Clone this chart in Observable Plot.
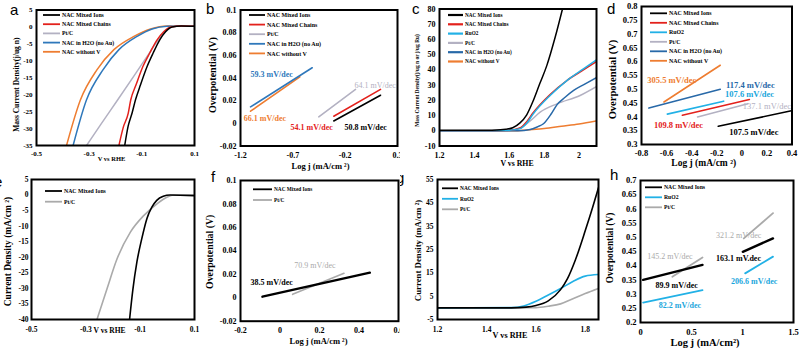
<!DOCTYPE html>
<html><head><meta charset="utf-8">
<script src="https://cdn.jsdelivr.net/npm/d3@7"></script>
<script src="https://cdn.jsdelivr.net/npm/@observablehq/plot@0.6"></script>
<style>
html,body{margin:0;padding:0;background:#fff;}
#fig{position:relative;width:800px;height:351px;overflow:hidden;background:#fff;}
#fig svg{position:absolute;}
</style></head><body><div id="fig"></div>
<script>
// ================= DATA =================
const N_IONS = "NAC Mixed Ions", N_CHAINS = "NAC Mixed Chains", N_PT = "Pt/C",
      N_H2O = "NAC in H2O (no Au)", N_NOV = "NAC without V", N_RU = "RuO2";

// (a) HER LSV: mass current density vs V (RHE)
const a_mixedIons   = [[-0.165,-35],[-0.152,-29.3],[-0.137,-25.4],[-0.124,-21.5],[-0.105,-17.1],[-0.08,-11.7],[-0.057,-7.7],[-0.032,-3.8],[-0.01,-1.4],[0.015,0],[0.05,0.3],[0.1,0.2]];
const a_mixedChains = [[-0.187,-35],[-0.170,-29.5],[-0.152,-25.6],[-0.142,-21.5],[-0.122,-17.1],[-0.096,-11.7],[-0.070,-7.7],[-0.042,-3.8],[-0.017,-1.4],[0.01,0],[0.05,0.3],[0.1,0.2]];
const a_ptc         = [[-0.31,-35],[-0.257,-28.9],[-0.194,-21.8],[-0.131,-14.6],[-0.08,-8.7],[-0.042,-4.3],[-0.01,-1.4],[0.015,0.1],[0.05,0.3],[0.1,0.2]];
const a_h2o         = [[-0.361,-35],[-0.31,-21.5],[-0.247,-12.6],[-0.187,-6.7],[-0.118,-2.8],[-0.061,-0.6],[-0.004,0.2],[0.05,0.3],[0.1,0.2]];
const a_noV         = [[-0.386,-35],[-0.333,-21.5],[-0.27,-12.6],[-0.206,-6.7],[-0.13,-2.8],[-0.067,-0.6],[-0.004,0.3],[0.05,0.3],[0.1,0.2]];
const a_xticks = [-0.5,-0.3,-0.1,0.1];
const a_yticks = [5,0,-5,-10,-15,-20,-25,-30,-35];

// (b) HER Tafel
const b_mixedIons   = [[-0.309,0.0021],[0.138,0.0248]];
const b_mixedChains = [[-0.309,0.0063],[0.138,0.030]];
const b_ptc         = [[-0.452,0.0057],[-0.101,0.0299]];
const b_h2o         = [[-1.104,0.0145],[-0.515,0.049]];
const b_noV         = [[-1.104,0.0107],[-0.633,0.041]];
const b_slopes = [["59.3 mV/dec",-1.104,0.0431,N_H2O],["66.1 mV/dec",-1.168,0.0042,N_NOV],["54.1 mV/dec",-0.722,-0.0032,N_CHAINS],["50.8 mV/dec",-0.206,-0.0032,N_IONS],["64.1 mV/dec",-0.111,0.0337,N_PT]];
const b_xticks = [-1.2,-0.7,-0.2,0.3];
const b_yticks = [0.1,0.08,0.06,0.04,0.02,0,-0.02];

// (c) OER LSV: mass current density
const c_mixedIons   = [[1.2,0.3],[1.4,0.3],[1.5,0.4],[1.55,0.6],[1.58,1],[1.62,2],[1.66,5],[1.70,10.5],[1.738,19.9],[1.775,31],[1.815,42.8],[1.863,61.4],[1.905,80]];
const c_mixedChains = [[1.2,0],[1.5,0],[1.6,0.3],[1.66,1.8],[1.70,6],[1.738,12],[1.834,23.8],[1.93,33],[2.025,40],[2.1,45.5]];
const c_ruo2        = [[1.2,0],[1.5,0],[1.6,0.3],[1.662,1.4],[1.70,5],[1.738,11.2],[1.834,23.2],[1.93,33],[2.025,40.7],[2.1,46.6]];
const c_ptc         = [[1.2,0],[1.6,0.2],[1.66,1.5],[1.72,6.5],[1.777,12.2],[1.873,17.7],[2.006,23.2],[2.1,29]];
const c_h2o         = [[1.2,0],[1.65,0],[1.72,0.8],[1.76,2.5],[1.796,4.6],[1.84,11],[1.873,17],[1.92,22],[1.969,26.5],[2.03,30.5],[2.1,35]];
const c_noV         = [[1.2,0],[1.65,0],[1.7,0.5],[1.8,1.5],[1.9,3],[2.0,4.5],[2.1,6.5]];
const c_xticks = [1.2,1.4,1.6,1.8,2];
const c_yticks = [80,70,60,50,40,30,20,10,0,-10];

// (d) OER Tafel
const d_mixedIons   = [[-0.188,0.366],[0.395,0.422]];
const d_mixedChains = [[-0.474,0.406],[0.060,0.463]];
const d_ruo2        = [[-0.594,0.410],[-0.145,0.457]];
const d_ptc         = [[-0.353,0.400],[0.048,0.448]];
const d_h2o         = [[-0.741,0.432],[-0.172,0.500]];
const d_noV         = [[-0.621,0.454],[-0.172,0.587]];
const d_slopes = [["305.5 mV/dec",-0.754,0.533,N_NOV],["117.4 mV/dec",-0.126,0.5145,N_H2O],["107.6 mV/dec",-0.134,0.482,N_RU],["137.1 mV/dec",0.0075,0.439,N_PT],["109.8 mV/dec",-0.701,0.370,N_CHAINS],["107.5 mV/dec",-0.0999,0.346,N_IONS]];
const d_xticks = [-0.8,-0.6,-0.4,-0.2,0,0.2,0.4];
const d_yticks = [0.8,0.75,0.7,0.65,0.6,0.55,0.5,0.45,0.4,0.35,0.3];

// (e) HER LSV: current density
const e_mixedIons = [[-0.139,-40],[-0.127,-30.5],[-0.112,-21.5],[-0.094,-14],[-0.075,-7.5],[-0.057,-3.9],[-0.039,-1.7],[-0.015,-0.4],[0.01,0],[0.1,-0.2]];
const e_ptc       = [[-0.259,-40],[-0.222,-30.1],[-0.185,-20.5],[-0.136,-11.9],[-0.087,-6.6],[-0.038,-2.8],[-0.002,-0.7],[0.023,0],[0.1,0]];
const e_xticks = [-0.5,-0.3,-0.1,0.1];
const e_yticks = [5,0,-5,-10,-15,-20,-25,-30,-35,-40];

// (f) HER Tafel
const f_mixedIons = [[-0.089,0.0009],[0.455,0.0214]];
const f_ptc       = [[0.064,0.0029],[0.324,0.0209]];
const f_slopes = [["38.5 mV/dec",-0.149,0.0132,N_IONS],["70.9 mV/dec",0.072,0.0275,N_PT]];
const f_xticks = [-0.2,0,0.2,0.4,0.6];
const f_yticks = [0.1,0.08,0.06,0.04,0.02,0,-0.02];

// (g) OER LSV: current density
const g_mixedIons = [[1.2,0],[1.5,0],[1.56,0.3],[1.6,1],[1.65,3],[1.70,7.8],[1.728,12.5],[1.76,20.5],[1.8,33],[1.83,43],[1.854,51.5]];
const g_ruo2      = [[1.2,0],[1.5,0.1],[1.55,0.8],[1.6,2.8],[1.65,5.5],[1.7,8.3],[1.75,11.3],[1.8,13.6],[1.854,14.3]];
const g_ptc       = [[1.2,0],[1.6,0.1],[1.65,0.7],[1.7,1.7],[1.75,3.9],[1.8,6.1],[1.854,8.3]];
const g_xticks = [1.2,1.4,1.6,1.8];
const g_yticks = [55,45,35,25,15,5,-5];

// (h) OER Tafel, two regions
const h_mixedIonsLow  = [[0.026,0.35],[0.608,0.403]];
const h_mixedIonsHigh = [[1.003,0.449],[1.299,0.496]];
const h_ruo2Low       = [[0.026,0.270],[0.608,0.314]];
const h_ruo2High      = [[1.026,0.373],[1.299,0.432]];
const h_ptcLow        = [[0.312,0.361],[0.608,0.429]];
const h_ptcHigh       = [[1.013,0.496],[1.299,0.585]];
const h_slopes = [["321.2 mV/dec",0.74,0.508,N_PT],["145.2 mV/dec",0.066,0.432,N_PT],["163.1 mV.dec",0.74,0.424,N_IONS],["89.9 mV/dec",0.148,0.332,N_IONS],["82.2 mV/dec",0.18,0.261,N_RU],["206.6 mV/dec",0.888,0.344,N_RU]];
const h_xticks = [0,0.5,1,1.5];
const h_yticks = [0.7,0.65,0.6,0.55,0.5,0.45,0.4,0.35,0.3,0.25,0.2];

const panelLetters = ["a","b","c","d","e","f","g","h"];

// ================= STYLE =================
const FONT = '"Liberation Serif","Times New Roman",serif';
const COL = {[N_IONS]:"#000000",[N_CHAINS]:"#e3211c",[N_PT]:"#b3b1c2",[N_H2O]:"#2f78bb",[N_NOV]:"#ee7d31",[N_RU]:"#22b1e6"};
const COL_DARKBLUE = "#2869a8";

function legendMark(items, cfg, colors) {
  return () => {
    const g = d3.create("svg:g").attr("text-anchor", "start");
    items.forEach((name, i) => {
      const y = cfg.y + i * cfg.dy;
      g.append("line").attr("x1", cfg.x).attr("x2", cfg.x + cfg.len).attr("y1", y).attr("y2", y)
        .attr("stroke", colors[name]).attr("stroke-width", cfg.sw || 1.8);
      g.append("text").attr("x", cfg.x + cfg.len + 2).attr("y", y).attr("dy", "0.35em")
        .attr("text-anchor", "start")
        .attr("font-size", cfg.fs).attr("font-weight", "bold").attr("font-family", FONT)
        .attr("fill", "#000").text(name);
    });
    return g.node();
  };
}

const panels = [
  {box:[0,0,175], frame:[36,194,9.5,145], x:[-0.5,0.1], y:[-35,5], xt:a_xticks, yt:a_yticks, tfs:7, xpad:5.5, ypad:4,
   series:[[a_noV,N_NOV],[a_h2o,N_H2O],[a_ptc,N_PT],[a_mixedChains,N_CHAINS],[a_mixedIons,N_IONS]], sw:1.5, curve:"monotone-x",
   xTitle:"V vs RHE", xfs:6.5, xdy:13.5, xdx:-4, yTitle:"Mass Current Density(j/ug n)", yfs:7.5, ydx:-20, ydy:7,
   legend:{items:[N_IONS,N_CHAINS,N_PT,N_H2O,N_NOV], x:43, y:15, dy:9.2, len:17, fs:5.8}},
  {box:[200,0,175], frame:[240,397,9.5,145.5], x:[-1.2,0.3], y:[-0.02,0.1], xt:b_xticks, yt:b_yticks, tfs:8, xpad:6.5, ypad:4,
   series:[[b_noV,N_NOV],[b_h2o,N_H2O],[b_ptc,N_PT],[b_mixedChains,N_CHAINS],[b_mixedIons,N_IONS]], sw:1.6, curve:"linear",
   slopes:b_slopes, sfs:8,
   xTitle:"Log j (mA/cm ²)", xfs:8.5, xdy:20.5, xdx:1.5, yTitle:"Overpotential (V)", yfs:10, ydx:-28, ydy:-3,
   legend:{items:[N_IONS,N_CHAINS,N_PT,N_H2O,N_NOV], x:49, y:15, dy:9.6, len:16, fs:6}},
  {box:[400,0,175], frame:[439,596,8.5,145.5], x:[1.2,2.1], y:[-10,80], xt:c_xticks, yt:c_yticks, tfs:8, xpad:6, ypad:4,
   series:[[c_noV,N_NOV],[c_ptc,N_PT],[c_h2o,N_H2O],[c_mixedChains,N_CHAINS],[c_ruo2,N_RU],[c_mixedIons,N_IONS]], sw:1.5, curve:"monotone-x", dark:true,
   xTitle:"V vs RHE", xfs:7.8, xdy:17, xdx:-1, yTitle:"Mass Current Density(j/ug n or j/ug Ru)", yfs:5.4, ydx:-22, ydy:3,
   legend:{items:[N_IONS,N_CHAINS,N_RU,N_PT,N_H2O,N_NOV], x:48, y:15, dy:9.3, len:15, fs:5.2, sw:2.2}},
  {box:[600,0,175], frame:[641,791.5,6,144], x:[-0.8,0.4], y:[0.3,0.8], xt:d_xticks, yt:d_yticks, tfs:8.5, xpad:5.5, ypad:4,
   series:[[d_noV,N_NOV],[d_h2o,N_H2O],[d_ruo2,N_RU],[d_mixedChains,N_CHAINS],[d_ptc,N_PT],[d_mixedIons,N_IONS]], sw:1.6, curve:"linear", dark:true,
   slopes:d_slopes, sfs:8.5,
   xTitle:"Log j (mA/cm ²)", xfs:9.5, xdy:18, xdx:-13, yTitle:"Overpotential (V)", yfs:10.5, ydx:-29, ydy:4,
   legend:{items:[N_IONS,N_CHAINS,N_RU,N_PT,N_H2O,N_NOV], x:50, y:13.3, dy:9.5, len:17, fs:5.9}},
  {box:[0,175,176], frame:[31,194,179,319], x:[-0.5,0.1], y:[-40,5], xt:e_xticks, yt:e_yticks, tfs:7.5, xpad:7, ypad:3,
   series:[[e_ptc,N_PT],[e_mixedIons,N_IONS]], sw:1.6, curve:"monotone-x", grayPt:"#aaaaaa",
   xTitle:"V vs RHE", xfs:7.5, xdy:11, xdx:-3.5, yTitle:"Current Density (mA/cm ²)", yfs:9.5, ydx:-24, ydy:2,
   legend:{items:[N_IONS,N_PT], x:45, y:16, dy:10.7, len:17, fs:5.8}},
  {box:[200,175,176], frame:[240,398,180,320.7], x:[-0.2,0.6], y:[-0.02,0.1], xt:f_xticks, yt:f_yticks, tfs:8, xpad:6.5, ypad:4,
   series:[[f_ptc,N_PT],[f_mixedIons,N_IONS]], sw:1.6, curve:"linear", grayPt:"#aaaaaa", blackW:2.4,
   slopes:f_slopes, sfs:8,
   xTitle:"Log j (mA/cm ²)", xfs:8.5, xdy:20, xdx:-1, yTitle:"Overpotential (V)", yfs:9.8, ydx:-31, ydy:1,
   legend:{items:[N_IONS,N_PT], x:53, y:14.3, dy:10.7, len:19, fs:5.3}},
  {box:[400,175,176], frame:[437,598,179,319], x:[1.2,1.854], y:[-5,55], xt:g_xticks, yt:g_yticks, tfs:7.5, xpad:7, ypad:4,
   series:[[g_ptc,N_PT],[g_ruo2,N_RU],[g_mixedIons,N_IONS]], sw:1.6, curve:"monotone-x", grayPt:"#aaaaaa",
   xTitle:"V vs RHE", xfs:8.2, xdy:16, xdx:-8, yTitle:"Current Density (mA/cm ²)", yfs:8.8, ydx:-19, ydy:1,
   legend:{items:[N_IONS,N_RU,N_PT], x:42, y:13.3, dy:10.5, len:16, fs:5.4}},
  {box:[600,175,176], frame:[640,793,180,322], x:[0,1.5], y:[0.2,0.7], xt:h_xticks, yt:h_yticks, tfs:8.5, xpad:6, ypad:4,
   series:[[h_ptcLow,N_PT],[h_ptcHigh,N_PT],[h_ruo2Low,N_RU],[h_ruo2High,N_RU],[h_mixedIonsLow,N_IONS],[h_mixedIonsHigh,N_IONS]], sw:1.8, curve:"linear", grayPt:"#aaaaaa", blackW:2.4,
   slopes:h_slopes, sfs:8,
   xTitle:"Log j (mA/cm²)", xfs:10.5, xdy:20.5, xdx:-12, yTitle:"Overpotential (V)", yfs:9.3, ydx:-30, ydy:-3.5,
   legend:{items:[N_IONS,N_RU,N_PT], x:45, y:12.3, dy:10, len:17, fs:5.7}}
];

// page positions of the panel letters (x, baseline y)
const letterPos = [[10,14.5],[206,14],[412,14],[607,13.5],[-6,187],[211,181.5],[396,183],[610,180]];

const fig = document.getElementById("fig");
for (const p of panels) {
  const [bx, by, bh] = p.box;
  const [L, R, T, B] = p.frame;
  const colors = {...COL};
  if (p.dark) colors[N_H2O] = COL_DARKBLUE;
  if (p.grayPt) colors[N_PT] = p.grayPt;
  const marks = [];
  for (const [data, name] of p.series) {
    let w = p.sw;
    if (name === N_IONS && p.blackW) w = p.blackW;
    marks.push(Plot.line(data, {x: d => d[0], y: d => d[1], stroke: colors[name], strokeWidth: w, curve: p.curve, clip: true}));
  }
  for (const s of (p.slopes || [])) {
    const name = s[3];
    marks.push(Plot.text([s], {x: d => d[1], y: d => d[2], text: d => d[0], fill: name === N_RU ? "#1aa6dc" : colors[name],
      fontSize: p.sfs, fontWeight: name === N_PT ? "normal" : "bold", textAnchor: "start", fontFamily: FONT}));
  }
  marks.push(Plot.frame({stroke: "#000", strokeWidth: 2}));
  marks.push(Plot.text([p.xTitle], {text: d => d, frameAnchor: "bottom", dy: p.xdy, dx: p.xdx, fontSize: p.xfs, fontWeight: "bold", fontFamily: FONT, lineAnchor: "middle", fill: "#000"}));
  marks.push(Plot.text([p.yTitle], {text: d => d, frameAnchor: "left", rotate: -90, dx: p.ydx, dy: p.ydy, fontSize: p.yfs, fontWeight: "bold", fontFamily: FONT, lineAnchor: "middle", textAnchor: "middle", fill: "#000"}));
  marks.push(legendMark(p.legend.items, p.legend, colors));
  const svg = Plot.plot({
    width: 200, height: bh,
    marginLeft: L - bx, marginRight: bx + 200 - R, marginTop: T - by, marginBottom: by + bh - B,
    style: {fontFamily: FONT, fontSize: p.tfs + "px", fontWeight: "bold", background: "transparent", color: "#000"},
    x: {domain: p.x, ticks: p.xt, tickFormat: d => String(d), tickSize: 0, tickPadding: p.xpad, label: null},
    y: {domain: p.y, ticks: p.yt, tickFormat: d => String(d), tickSize: 0, tickPadding: p.ypad, label: null},
    marks
  });
  svg.style.left = bx + "px";
  svg.style.top = by + "px";
  fig.appendChild(svg);
}

// overlay with panel letters
const ov = d3.create("svg").attr("width", 800).attr("height", 351)
  .style("left", "0px").style("top", "0px").style("pointer-events", "none");
ov.append("defs").append("clipPath").attr("id", "clipG").append("rect")
  .attr("x", 400).attr("y", 175).attr("width", 200).attr("height", 176);
panelLetters.forEach((ch, i) => {
  const t = ov.append("text").attr("x", letterPos[i][0]).attr("y", letterPos[i][1])
    .attr("text-anchor", "start")
    .attr("font-family", '"Liberation Sans",Arial,sans-serif').attr("font-size", 15)
    .attr("fill", "#000").text(ch);
  if (ch === "g") t.attr("clip-path", "url(#clipG)");
});
fig.appendChild(ov.node());
</script>
</body></html>
